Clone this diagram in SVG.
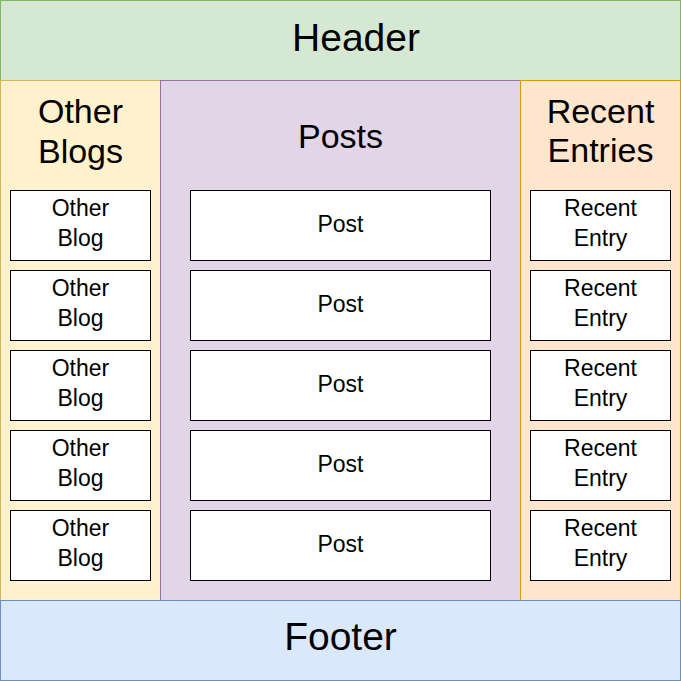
<svg xmlns="http://www.w3.org/2000/svg" width="681" height="681" viewBox="0 0 681 681">
<style>
text{font-family:"Liberation Sans",Arial,sans-serif;fill:#000;text-anchor:middle}
.big{font-size:39px}
.mid{font-size:34px}
.sm{font-size:23px}
.item{fill:#fff;stroke:#000;stroke-width:1}
</style>
<rect width="681" height="681" fill="#fff"/>
<g id="header"><rect x="0.5" y="0.5" width="680" height="80" fill="#d5e8d4" stroke="#82b366"/><text class="big" x="356" y="51">Header</text></g>
<g id="otherBlogs"><rect x="0.5" y="80.5" width="160" height="520" fill="#fff2cc" stroke="#d6b656"/><text class="mid" x="80.5" y="123">Other</text><text class="mid" x="80.5" y="163">Blogs</text></g>
<g id="posts"><rect x="160.5" y="80.5" width="360" height="520" fill="#e1d5e7" stroke="#9673a6"/><text class="mid" x="340.5" y="148">Posts</text></g>
<g id="recentEntries"><rect x="520.5" y="80.5" width="160" height="520" fill="#ffe6cc" stroke="#d79b00"/><text class="mid" x="600.5" y="123">Recent</text><text class="mid" x="600.5" y="162">Entries</text></g>
<g id="footer"><rect x="0.5" y="600.5" width="680" height="80" fill="#dae8fc" stroke="#6c8ebf"/><text class="big" x="340.5" y="650">Footer</text></g>
<g id="ob1"><rect class="item" x="10.5" y="190.5" width="140" height="70"/><text class="sm" x="80.5" y="216">Other</text><text class="sm" x="80.5" y="246">Blog</text></g>
<g id="ob2"><rect class="item" x="10.5" y="270.5" width="140" height="70"/><text class="sm" x="80.5" y="296">Other</text><text class="sm" x="80.5" y="326">Blog</text></g>
<g id="ob3"><rect class="item" x="10.5" y="350.5" width="140" height="70"/><text class="sm" x="80.5" y="376">Other</text><text class="sm" x="80.5" y="406">Blog</text></g>
<g id="ob4"><rect class="item" x="10.5" y="430.5" width="140" height="70"/><text class="sm" x="80.5" y="456">Other</text><text class="sm" x="80.5" y="486">Blog</text></g>
<g id="ob5"><rect class="item" x="10.5" y="510.5" width="140" height="70"/><text class="sm" x="80.5" y="536">Other</text><text class="sm" x="80.5" y="566">Blog</text></g>
<g id="p1"><rect class="item" x="190.5" y="190.5" width="300" height="70"/><text class="sm" x="340.5" y="232">Post</text></g>
<g id="p2"><rect class="item" x="190.5" y="270.5" width="300" height="70"/><text class="sm" x="340.5" y="312">Post</text></g>
<g id="p3"><rect class="item" x="190.5" y="350.5" width="300" height="70"/><text class="sm" x="340.5" y="392">Post</text></g>
<g id="p4"><rect class="item" x="190.5" y="430.5" width="300" height="70"/><text class="sm" x="340.5" y="472">Post</text></g>
<g id="p5"><rect class="item" x="190.5" y="510.5" width="300" height="70"/><text class="sm" x="340.5" y="552">Post</text></g>
<g id="re1"><rect class="item" x="530.5" y="190.5" width="140" height="70"/><text class="sm" x="600.5" y="216">Recent</text><text class="sm" x="600.5" y="246">Entry</text></g>
<g id="re2"><rect class="item" x="530.5" y="270.5" width="140" height="70"/><text class="sm" x="600.5" y="296">Recent</text><text class="sm" x="600.5" y="326">Entry</text></g>
<g id="re3"><rect class="item" x="530.5" y="350.5" width="140" height="70"/><text class="sm" x="600.5" y="376">Recent</text><text class="sm" x="600.5" y="406">Entry</text></g>
<g id="re4"><rect class="item" x="530.5" y="430.5" width="140" height="70"/><text class="sm" x="600.5" y="456">Recent</text><text class="sm" x="600.5" y="486">Entry</text></g>
<g id="re5"><rect class="item" x="530.5" y="510.5" width="140" height="70"/><text class="sm" x="600.5" y="536">Recent</text><text class="sm" x="600.5" y="566">Entry</text></g>
<g id="connectors"></g>
</svg>
